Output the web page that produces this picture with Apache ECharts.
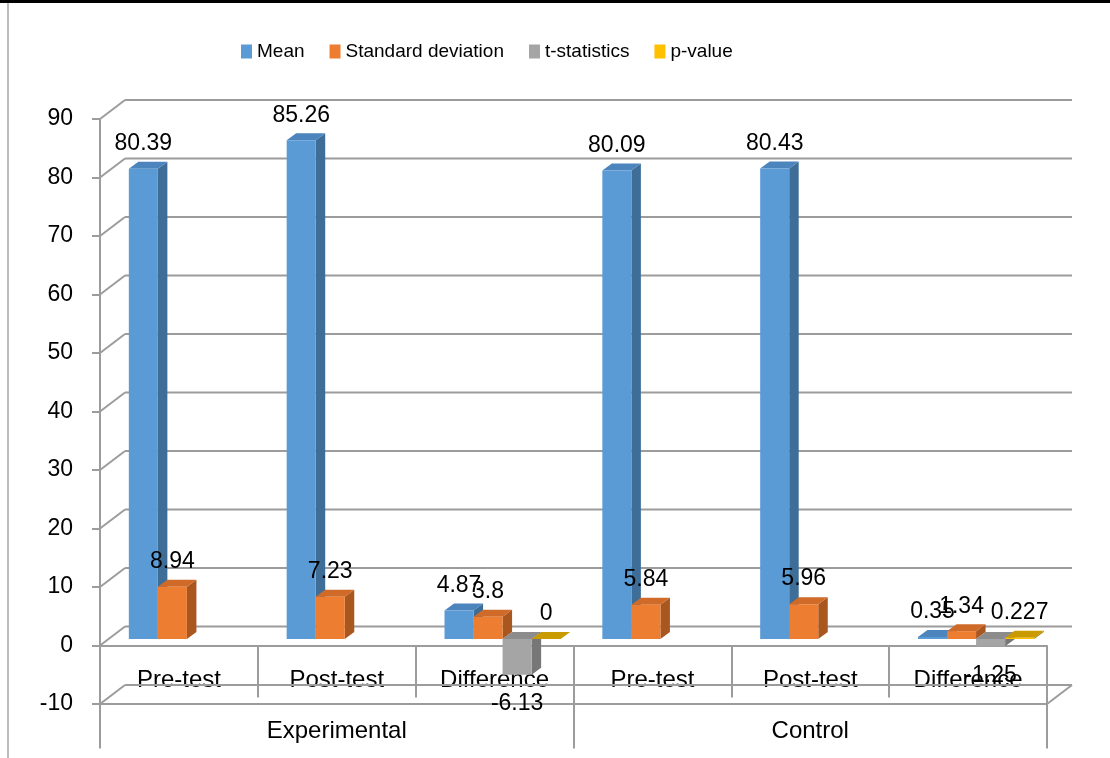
<!DOCTYPE html>
<html>
<head>
<meta charset="utf-8">
<script src="https://cdn.jsdelivr.net/npm/echarts@6/dist/echarts.min.js"></script>
<style>
  html, body { margin: 0; padding: 0; background: #fff; }
  #chart { width: 1110px; height: 758px; }
</style>
</head>
<body>
<div id="chart"></div>
<script>
// Category rows and their groups
const categories = ['Pre-test', 'Post-test', 'Difference', 'Pre-test', 'Post-test', 'Difference'];
const groups = ['Experimental', 'Control'];

// Series values per category (null = no column)
const seriesNames = ['Mean', 'Standard deviation', 't-statistics', 'p-value'];
const meanValues = [80.39, 85.26, 4.87, 80.09, 80.43, 0.35];
const sdValues = [8.94, 7.23, 3.8, 5.84, 5.96, 1.34];
const tValues = [null, null, -6.13, null, null, -1.25];
const pValues = [null, null, 0, null, null, 0.227];

// Value-axis ticks
const yTicks = [-10, 0, 10, 20, 30, 40, 50, 60, 70, 80, 90];

const FONT = 'Liberation Sans';
const LINE = '#9C9C9C';
// Perspective offsets (px): back wall, column front plane, column depth
const WALL = [25, -19];
const BAR_SHIFT = [8, -6.5];
const BAR_DEPTH = [9.5, -7];

const palette = [
  { front: '#5B9BD5', side: '#3E6D97', top: '#4C84BD' },
  { front: '#ED7D31', side: '#A9561F', top: '#CF6A28' },
  { front: '#A5A5A5', side: '#777777', top: '#8C8C8C' },
  { front: '#FFC000', side: '#A27C00', top: '#C99B00' }
];

const valueLists = [meanValues, sdValues, tValues, pValues];

function toData(list) {
  return list.map((v, i) => [i, v]).filter(d => d[1] !== null);
}

// Back wall, side wall and floor lines
function wallRenderer(params, api) {
  const v = api.value(1);
  const cs = params.coordSys;
  const y = api.coord([0, v])[1];
  const xl = cs.x, xr = cs.x + cs.width;
  const segs = [
    [xl, y, xl + WALL[0], y + WALL[1]],
    [xl + WALL[0], y + WALL[1], xr + WALL[0], y + WALL[1]]
  ];
  if (v === yTicks[0]) {
    segs.push([xl, y, xr, y]);
    segs.push([xr, y, xr + WALL[0], y + WALL[1]]);
  }
  return {
    type: 'group',
    children: segs.map(s => ({
      type: 'line',
      shape: { x1: s[0], y1: s[1], x2: s[2], y2: s[3] },
      style: { stroke: LINE, lineWidth: 2 }
    }))
  };
}

// 3D-looking column: front face, right side, top face, value label
function barRenderer(k) {
  return function (params, api) {
    const cat = api.value(0);
    const v = api.value(1);
    if (v === null || isNaN(v)) return null;
    const band = api.size([1, 0])[0];
    const w = band * 0.184;
    const c = api.coord([cat, 0]);
    const t = api.coord([cat, v]);
    const x0 = c[0] - 2 * w + k * w + BAR_SHIFT[0];
    const x1 = x0 + w;
    const yb = c[1] + BAR_SHIFT[1];
    const yv = t[1] + BAR_SHIFT[1];
    const yHi = Math.min(yb, yv);
    const yLo = Math.max(yb, yv);
    const dx = BAR_DEPTH[0], dy = BAR_DEPTH[1];
    const col = palette[k];
    return {
      type: 'group',
      children: [
        {
          type: 'polygon',
          shape: { points: [[x1, yHi], [x1 + dx, yHi + dy], [x1 + dx, yLo + dy], [x1, yLo]] },
          style: { fill: col.side }
        },
        {
          type: 'polygon',
          shape: { points: [[x0, yHi], [x1, yHi], [x1 + dx, yHi + dy], [x0 + dx, yHi + dy]] },
          style: { fill: col.top }
        },
        {
          type: 'rect',
          shape: { x: x0, y: yHi, width: w, height: yLo - yHi },
          style: { fill: col.front }
        },
        {
          type: 'text',
          x: (x0 + x1) / 2,
          y: v >= 0 ? yHi - 25 : yLo + 29,
          z2: 50,
          style: {
            text: String(v),
            fontFamily: FONT,
            fontSize: 23,
            fill: '#000',
            align: 'center',
            verticalAlign: 'middle'
          }
        }
      ]
    };
  };
}

const chart = echarts.init(document.getElementById('chart'), null, { renderer: 'canvas' });

const series = [
  {
    type: 'custom',
    name: 'wall',
    silent: true,
    z: 1,
    renderItem: wallRenderer,
    data: yTicks.map(v => [0, v])
  }
].concat(seriesNames.map((name, k) => ({
  type: 'custom',
  name: name,
  z: 2,
  itemStyle: { color: palette[k].front },
  renderItem: barRenderer(k),
  data: toData(valueLists[k])
})));

chart.setOption({
  animation: false,
  backgroundColor: '#fff',
  graphic: [
    { type: 'rect', shape: { x: 0, y: 0, width: 1110, height: 3 }, style: { fill: '#000' } },
    { type: 'line', shape: { x1: 8, y1: 3, x2: 8, y2: 758 }, style: { stroke: '#A6A6A6', lineWidth: 1.5 } }
  ],
  legend: {
    data: seriesNames,
    left: 241,
    top: 42,
    padding: 0,
    icon: 'rect',
    itemWidth: 11,
    itemHeight: 14,
    itemGap: 25,
    textStyle: { fontFamily: FONT, fontSize: 19, color: '#000' }
  },
  grid: { left: 100, right: 63, top: 119, bottom: 54, containLabel: false, outerBoundsMode: 'none' },
  xAxis: [
    {
      type: 'category',
      data: categories,
      position: 'bottom',
      boundaryGap: true,
      axisLine: { show: true, onZero: true, onZeroAxisIndex: 0, lineStyle: { color: LINE, width: 2 } },
      axisTick: { show: true, length: 52, interval: 0, lineStyle: { color: LINE, width: 2 } },
      axisLabel: { interval: 0, margin: -36, fontFamily: FONT, fontSize: 24, color: '#000' },
      splitLine: { show: false }
    },
    {
      type: 'category',
      data: groups,
      position: 'bottom',
      boundaryGap: true,
      axisLine: { show: false, onZero: true, onZeroAxisIndex: 0 },
      axisTick: { show: true, length: 103, interval: 0, lineStyle: { color: LINE, width: 2 } },
      axisLabel: { interval: 0, margin: 15, fontFamily: FONT, fontSize: 24, color: '#000' },
      splitLine: { show: false }
    }
  ],
  yAxis: {
    type: 'value',
    min: -10,
    max: 90,
    interval: 10,
    axisLine: { show: true, lineStyle: { color: LINE, width: 2 } },
    axisTick: { show: true, length: 8, lineStyle: { color: LINE, width: 2 } },
    axisLabel: { margin: 27, fontFamily: FONT, fontSize: 23, color: '#000' },
    splitLine: { show: false }
  },
  series: series
});
</script>
</body>
</html>
